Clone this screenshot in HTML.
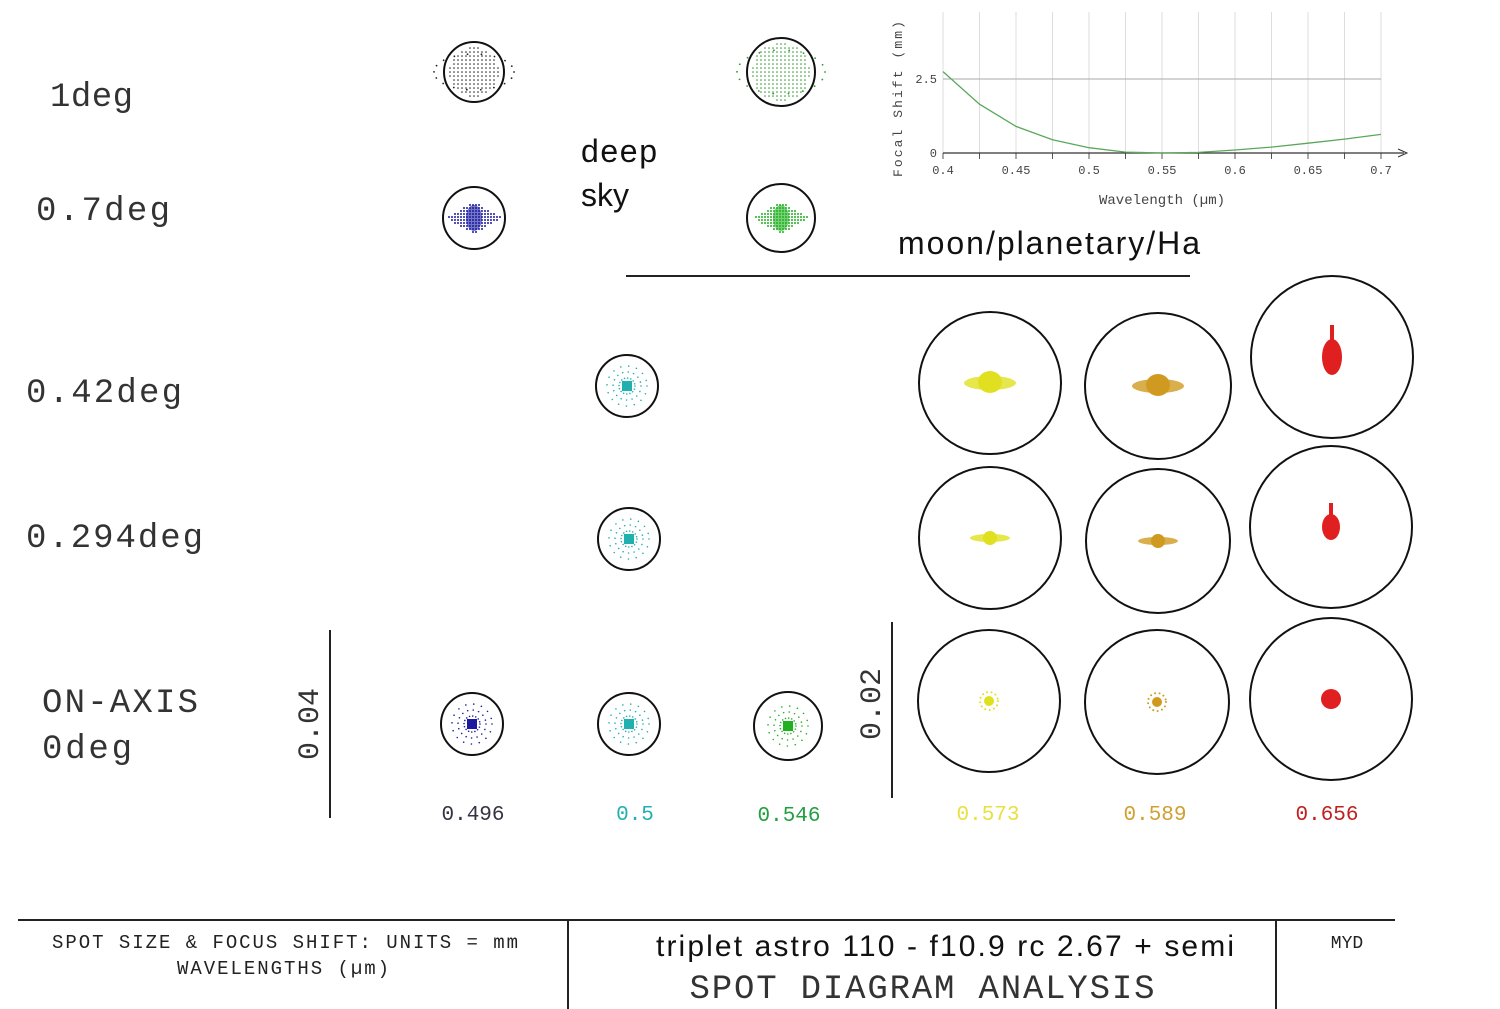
<!DOCTYPE html>
<html><head><meta charset="utf-8">
<style>
html,body{margin:0;padding:0;background:#fff;}
svg{display:block;}
.mono{font-family:"Liberation Mono",monospace;}
.sans{font-family:"Liberation Sans",sans-serif;}
</style></head>
<body>
<svg id="root" width="1500" height="1009" viewBox="0 0 1500 1009" xmlns="http://www.w3.org/2000/svg">
  <g class="mono" fill="#333" font-size="34">
    <text x="50" y="106" textLength="83">1deg</text>
    <text x="36" y="220" textLength="134">0.7deg</text>
    <text x="26" y="402" textLength="156">0.42deg</text>
    <text x="26" y="547" textLength="177">0.294deg</text>
    <text x="42" y="712" textLength="156">ON-AXIS</text>
    <text x="42" y="758" textLength="90">0deg</text>
  </g>
  <g class="sans" fill="#111" font-size="32">
    <text x="581" y="162" textLength="76">deep</text>
    <text x="581" y="206">sky</text>
    <text x="898" y="254" textLength="302">moon/planetary/Ha</text>
  </g>
  <line x1="626" y1="276" x2="1190" y2="276" stroke="#222" stroke-width="2"/>

  <line x1="330" y1="630" x2="330" y2="818" stroke="#222" stroke-width="2"/>
  <text class="mono" x="0" y="0" font-size="30" fill="#333" transform="translate(318,760) rotate(-90)">0.04</text>
  <line x1="892" y1="622" x2="892" y2="798" stroke="#222" stroke-width="2"/>
  <text class="mono" x="0" y="0" font-size="30" fill="#333" transform="translate(880,740) rotate(-90)">0.02</text>

  <g class="mono" font-size="21" text-anchor="middle">
    <text x="473" y="820" fill="#334">0.496</text>
    <text x="635" y="820" fill="#20b0b0">0.5</text>
    <text x="789" y="821" fill="#20a040">0.546</text>
    <text x="988" y="820" fill="#e8e040">0.573</text>
    <text x="1155" y="820" fill="#d0a030">0.589</text>
    <text x="1327" y="820" fill="#c02020">0.656</text>
  </g>

  <g id="spots"></g>
  <g id="fschart"></g>

  <g>
    <line x1="18" y1="920" x2="1395" y2="920" stroke="#222" stroke-width="2"/>
    <line x1="568" y1="920" x2="568" y2="1009" stroke="#222" stroke-width="2"/>
    <line x1="1276" y1="920" x2="1276" y2="1009" stroke="#222" stroke-width="2"/>
    <text class="mono" x="285" y="948" font-size="19" text-anchor="middle" fill="#222" textLength="466">SPOT SIZE &amp; FOCUS SHIFT: UNITS = mm</text>
    <text class="mono" x="283" y="974" font-size="19" text-anchor="middle" fill="#222" textLength="212">WAVELENGTHS (µm)</text>
    <text class="sans" x="945" y="956" font-size="30" text-anchor="middle" fill="#111" textLength="578">triplet astro  110 - f10.9 rc  2.67 + semi</text>
    <text class="mono" x="922" y="998" font-size="34" text-anchor="middle" fill="#333" textLength="465">SPOT DIAGRAM ANALYSIS</text>
    <text class="mono" x="1347" y="948" font-size="18" text-anchor="middle" fill="#222">MYD</text>
  </g>
</svg>
<script>
const fsX = [0.4,0.425,0.45,0.475,0.5,0.525,0.55,0.575,0.6,0.625,0.65,0.675,0.7];
const fsY = [2.75,1.65,0.9,0.45,0.18,0.03,0.0,0.02,0.1,0.2,0.33,0.47,0.63];
const fsXTicks = [0.4,0.45,0.5,0.55,0.6,0.65,0.7];
const fsXTickLabels = ["0.4","0.45","0.5","0.55","0.6","0.65","0.7"];
const fsYTicks = [0,2.5];
const fsYTickLabels = ["0","2.5"];

const NS = "http://www.w3.org/2000/svg";
function mk(tag, attrs, parent){const e=document.createElementNS(NS,tag);for(const k in attrs)e.setAttribute(k,attrs[k]);parent.appendChild(e);return e;}
const xS = v => 943 + (v-0.4)/(0.3)*438;
const yS = v => 153 - v/2.5*74;
const fc = document.getElementById('fschart');
for(let i=0;i<=12;i++){
  const v=0.4+i*0.025;
  const l=mk('line',{x1:xS(v),x2:xS(v),y1:12,y2:153,stroke:'#ddd','stroke-width':1},fc);
  
  
  mk('line',{x1:xS(v),x2:xS(v),y1:153,y2:159,stroke:'#555','stroke-width':1},fc);
}
fsYTicks.forEach((t,i)=>{
  if(t>0){const g=mk('line',{x1:943,x2:1381,y1:yS(t),y2:yS(t),stroke:'#aaa','stroke-width':1},fc);
  
  }
  const tx=mk('text',{x:937,y:yS(t)+4,'font-size':12,'text-anchor':'end',fill:'#444','font-family':'Liberation Mono, monospace'},fc);
  tx.textContent=fsYTickLabels[i];
  
  
});
const ax=mk('line',{x1:943,x2:1404,y1:153,y2:153,stroke:'#333','stroke-width':1.2},fc);


mk('path',{d:'M1398,149 L1407,153 L1398,157',fill:'none',stroke:'#333'},fc);
fsXTicks.forEach((t,i)=>{
  const tx=mk('text',{x:xS(t),y:174,'font-size':12,'text-anchor':'middle',fill:'#444','font-family':'Liberation Mono, monospace'},fc);
  tx.textContent=fsXTickLabels[i];
  
  
});
const xt=mk('text',{x:1162,y:204,'font-size':14,'text-anchor':'middle',fill:'#444','font-family':'Liberation Mono, monospace'},fc);
xt.textContent='Wavelength (µm)';


const yt=mk('text',{x:0,y:0,'font-size':13,'text-anchor':'middle',fill:'#444','font-family':'Liberation Mono, monospace',transform:'translate(902,99) rotate(-90)',textLength:156},fc);
yt.textContent='Focal Shift (mm)';


let d='';fsX.forEach((v,i)=>{d+=(i?'L':'M')+xS(v).toFixed(1)+','+yS(fsY[i]).toFixed(1)+' ';});
const cur=mk('path',{d:d,fill:'none',stroke:'#5aa85a','stroke-width':1.3},fc);



const spotLayout = [
 [474,72,30,'#222','wide'],[781,72,34,'#2a9a2a','full'],
 [474,218,31,'#1a1aa0','diamond'],[781,218,34,'#20b020','diamond'],
 [627,386,31,'#20b0b0','small'],[990,383,71,'#e0e020','wing'],[1158,386,73,'#d09a20','wing'],[1332,357,81,'#e02020','tall'],
 [629,539,31,'#20b0b0','small'],[990,538,71,'#e0e020','wingS'],[1158,541,72,'#d09a20','wingS'],[1331,527,81,'#e02020','tallS'],
 [472,724,31,'#1a1aa0','core'],[629,724,31,'#20b0b0','core'],[788,726,34,'#20b020','core'],
 [989,701,71,'#e0e020','dot'],[1157,702,72,'#d09a20','dot'],[1331,699,81,'#e02020','dotB']
];
const sp=document.getElementById('spots');
spotLayout.forEach(s=>{
  const [cx,cy,r,col,type]=s;
  const g=mk('g',{},sp);
  
  
  mk('circle',{cx:cx,cy:cy,r:r,fill:'none',stroke:'#111','stroke-width':2},g);
  const dot=(x,y,rr)=>mk('circle',{cx:x,cy:y,r:rr||0.9,fill:col},g);
  if(type==='wide'||type==='full'){
    for(let x=-r+6;x<=r-6;x+=4)for(let y=-r+6;y<=r-6;y+=4) if(x*x+y*y<(r-5)*(r-5)) dot(cx+x,cy+y,0.8);
    for(let a=0;a<6.28;a+=0.35){dot(cx+(r+10)*Math.cos(a),cy+(r-12)*Math.sin(a),0.9);}
  } else if(type==='diamond'){
    for(let x=-28;x<=28;x+=3)for(let y=-16;y<=16;y+=3) if(Math.abs(x)/28+Math.abs(y)/16<1) dot(cx+x,cy+y,1);
    mk('ellipse',{cx:cx,cy:cy,rx:8,ry:13,fill:col,opacity:0.6},g);
  } else if(type==='small'||type==='core'){
    for(let a=0;a<6.28;a+=0.4){for(const rr of [8,14,20]) dot(cx+rr*Math.cos(a),cy+rr*Math.sin(a),0.8);}
    mk('rect',{x:cx-5,y:cy-5,width:10,height:10,fill:col},g);
  } else if(type==='wing'){
    mk('ellipse',{cx:cx,cy:cy,rx:26,ry:7,fill:col,opacity:0.8},g);
    mk('ellipse',{cx:cx,cy:cy-1,rx:12,ry:11,fill:col},g);
  } else if(type==='wingS'){
    mk('ellipse',{cx:cx,cy:cy,rx:20,ry:4,fill:col,opacity:0.8},g);
    mk('ellipse',{cx:cx,cy:cy,rx:7,ry:7,fill:col},g);
  } else if(type==='tall'){
    mk('ellipse',{cx:cx,cy:cy,rx:10,ry:18,fill:col},g);
    mk('rect',{x:cx-2,y:cy-32,width:4,height:18,fill:col},g);
  } else if(type==='tallS'){
    mk('ellipse',{cx:cx,cy:cy,rx:9,ry:13,fill:col},g);
    mk('rect',{x:cx-2,y:cy-24,width:4,height:14,fill:col},g);
  } else if(type==='dot'){
    for(let a=0;a<6.28;a+=0.5) dot(cx+9*Math.cos(a),cy+9*Math.sin(a),1);
    mk('circle',{cx:cx,cy:cy,r:5,fill:col},g);
  } else if(type==='dotB'){
    mk('circle',{cx:cx,cy:cy,r:10,fill:col},g);
  }
});
</script>
</body></html>
